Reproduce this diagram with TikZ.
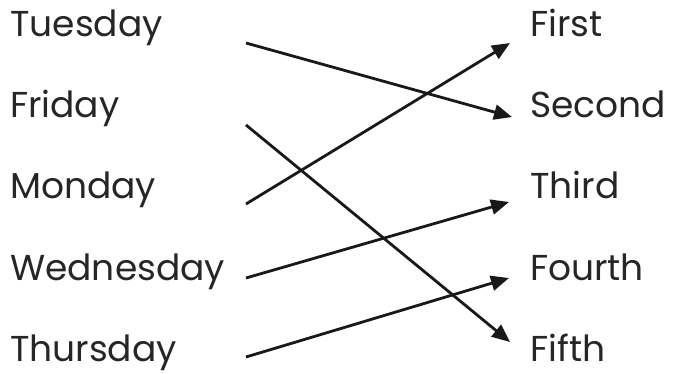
\documentclass[tikz,border=0pt]{standalone}
\usepackage{fontspec}
\setmainfont{Poppins}
\usetikzlibrary{arrows.meta}
\begin{document}
\begin{tikzpicture}[x=1pt,y=-1pt,
  lbl/.style={anchor=base west, inner sep=0pt, font=\fontsize{36}{40}\selectfont, text=black!85},
  conn/.style={line width=2.8pt, draw=black!90, -{Triangle[length=18pt,width=15pt]}}]
\useasboundingbox (0,0) rectangle (678,373);
\node[lbl] (tue) at (10,36) {Tuesday};
\node[lbl] (fri) at (10,117) {Friday};
\node[lbl] (mon) at (10,198) {Monday};
\node[lbl] (wed) at (10,280) {Wednesday};
\node[lbl] (thu) at (10,361) {Thursday};
\node[lbl] (first) at (530,36) {First};
\node[lbl] (second) at (530,117) {Second};
\node[lbl] (third) at (530,198) {Third};
\node[lbl] (fourth) at (530,280) {Fourth};
\node[lbl] (fifth) at (530,361) {Fifth};
\coordinate (s1) at (246,43);
\coordinate (s2) at (246,125);
\coordinate (s3) at (246,204);
\coordinate (s4) at (246,278);
\coordinate (s5) at (246,357);
\coordinate (e1) at (510,43);
\coordinate (e2) at (512,117);
\coordinate (e3) at (509,202);
\coordinate (e4) at (509,278);
\coordinate (e5) at (510,342);
\draw[conn] (s1) -- (e2);
\draw[conn] (s2) -- (e5);
\draw[conn] (s3) -- (e1);
\draw[conn] (s4) -- (e3);
\draw[conn] (s5) -- (e4);
\end{tikzpicture}
\end{document}
